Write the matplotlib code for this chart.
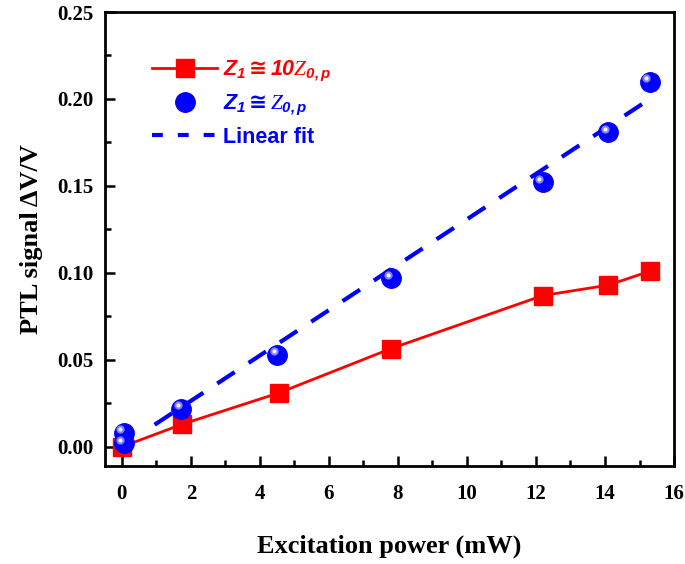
import matplotlib.pyplot as plt
import numpy as np
from matplotlib.ticker import MultipleLocator
from matplotlib.lines import Line2D
import matplotlib.transforms as mtransforms

plt.rcParams['mathtext.fontset'] = 'custom'
plt.rcParams['mathtext.it'] = 'Liberation Serif:italic'
plt.rcParams['mathtext.bf'] = 'Liberation Sans:bold:italic'
plt.rcParams['mathtext.rm'] = 'DejaVu Sans:bold'

# data
red_x = [0.0, 1.75, 4.55, 7.8, 12.2, 14.1, 15.3]
red_y = [0.0, 0.013, 0.031, 0.0565, 0.087, 0.093, 0.101]
blue_x = [0.05, 0.05, 1.72, 4.5, 7.8, 12.2, 14.1, 15.3]
blue_y = [0.002, 0.008, 0.022, 0.053, 0.097, 0.152, 0.181, 0.210]
fit_x = [0.95, 15.3]
fit_y = [0.0127, 0.200]

fig = plt.figure(figsize=(6.85, 5.64), dpi=100)
ax = fig.add_axes([0.1526, 0.1738, 0.984 - 0.1526, 0.9787 - 0.1738])

ax.plot(red_x, red_y, color='red', lw=2, marker='s', ms=13, mec='red', zorder=3)
ax.plot(fit_x, fit_y, color='blue', lw=3, ls=(0, (5, 4)), zorder=2)
ax.plot(blue_x, blue_y, ls='none', marker='o', ms=14, color='blue', zorder=4)
# highlight spot on the spheres
off = mtransforms.offset_copy(ax.transData, fig=fig, x=-2.5, y=2.5, units='points')
ax.plot(blue_x, blue_y, ls='none', marker='o', ms=6, color='#7f7fff',
        mec='none', transform=off, zorder=5)
ax.plot(blue_x, blue_y, ls='none', marker='o', ms=3, color='#f0f0ff',
        mec='none', transform=off, zorder=6)

ax.set_xlim(-0.5, 16)
ax.set_ylim(-0.011, 0.25)
ax.xaxis.set_major_locator(MultipleLocator(2))
ax.xaxis.set_minor_locator(MultipleLocator(1))
ax.yaxis.set_major_locator(MultipleLocator(0.05))
ax.yaxis.set_minor_locator(MultipleLocator(0.025))
ax.yaxis.set_major_formatter(plt.FormatStrFormatter('%.2f'))
ax.tick_params(which='major', direction='in', length=7, width=1.8, pad=8)
ax.tick_params(axis='x', which='major', pad=13)
ax.tick_params(which='minor', direction='in', length=4, width=1.8)
for s in ax.spines.values():
    s.set_linewidth(2)
for lab in ax.get_xticklabels() + ax.get_yticklabels():
    lab.set_fontfamily('Liberation Serif')
    lab.set_fontweight('bold')
    lab.set_fontsize(15)

ax.set_xlabel('Excitation power (mW)', fontfamily='Liberation Serif',
              fontweight='bold', fontsize=19, labelpad=22)
ax.set_ylabel('PTL signal ΔV/V', fontfamily='Liberation Serif',
              fontweight='bold', fontsize=19, labelpad=10)

handles = [
    Line2D([], [], color='red', lw=2, marker='s', ms=13),
    Line2D([], [], ls='none', marker='o', ms=14, color='blue'),
    Line2D([], [], color='blue', lw=3, ls=(0, (2.6, 3.6))),
]
labels = [r'$\mathbf{Z_1}{\cong}\mathbf{10}\mathit{Z}_{\mathbf{0,p}}$',
          r'$\mathbf{Z_1}{\cong}\mathit{Z}_{\mathbf{0,p}}$',
          'Linear fit']
leg = ax.legend(handles, labels, loc='upper left', bbox_to_anchor=(0.05, 0.94),
                frameon=False, handlelength=3.0, handletextpad=0.3,
                labelspacing=0.45,
                prop={'family': ['Liberation Sans', 'DejaVu Sans'],
                      'weight': 'bold', 'size': 15.5})
for t, c in zip(leg.get_texts(), ['red', 'blue', 'blue']):
    t.set_color(c)

fig.savefig('out.png', dpi=100)
